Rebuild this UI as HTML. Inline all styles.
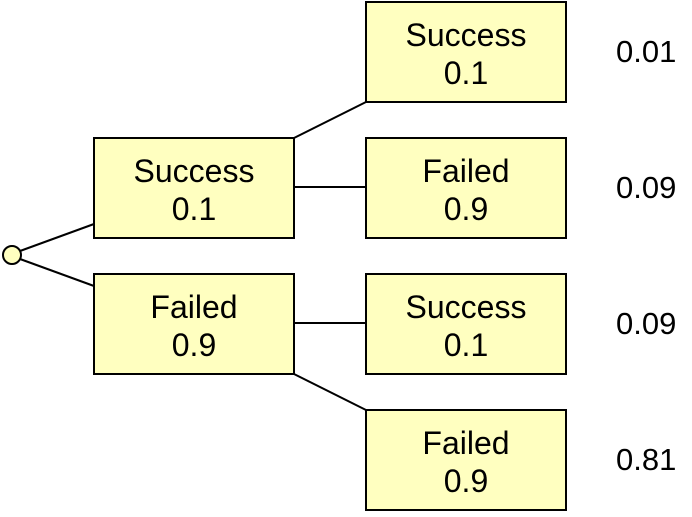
<!DOCTYPE html>
<html><head><style>html,body{margin:0;padding:0;background:#fff}</style></head><body>
<svg width="692" height="512" xmlns="http://www.w3.org/2000/svg" style="font-family:'Liberation Sans',Helvetica,Arial,sans-serif">
<g stroke="#000" stroke-width="2" fill="none">
<line x1="20" y1="251" x2="94" y2="224"/>
<line x1="20" y1="259" x2="94" y2="286"/>
<line x1="294" y1="138" x2="366" y2="102"/>
<line x1="294" y1="187" x2="366" y2="187"/>
<line x1="294" y1="323" x2="366" y2="323"/>
<line x1="294" y1="374" x2="366" y2="410"/>
</g>
<circle cx="12" cy="255" r="9" fill="#ffffc0" stroke="#000" stroke-width="2"/>
<g fill="#ffffc0" stroke="#000" stroke-width="2">
<rect x="94" y="138" width="200" height="100"/>
<rect x="94" y="274" width="200" height="100"/>
<rect x="366" y="2" width="200" height="100"/>
<rect x="366" y="138" width="200" height="100"/>
<rect x="366" y="274" width="200" height="100"/>
<rect x="366" y="410" width="200" height="100"/>
</g>
<g text-anchor="middle" fill="#000" font-size="32">
<text x="194" y="182">Success</text><text x="194" y="220">0.1</text>
<text x="194" y="318">Failed</text><text x="194" y="356">0.9</text>
<text x="466" y="46">Success</text><text x="466" y="84">0.1</text>
<text x="466" y="182">Failed</text><text x="466" y="220">0.9</text>
<text x="466" y="318">Success</text><text x="466" y="356">0.1</text>
<text x="466" y="454">Failed</text><text x="466" y="492">0.9</text>
</g>
<g fill="#000" font-size="31">
<text x="616" y="62">0.01</text>
<text x="616" y="198">0.09</text>
<text x="616" y="334">0.09</text>
<text x="616" y="470">0.81</text>
</g>
</svg>
</body></html>
